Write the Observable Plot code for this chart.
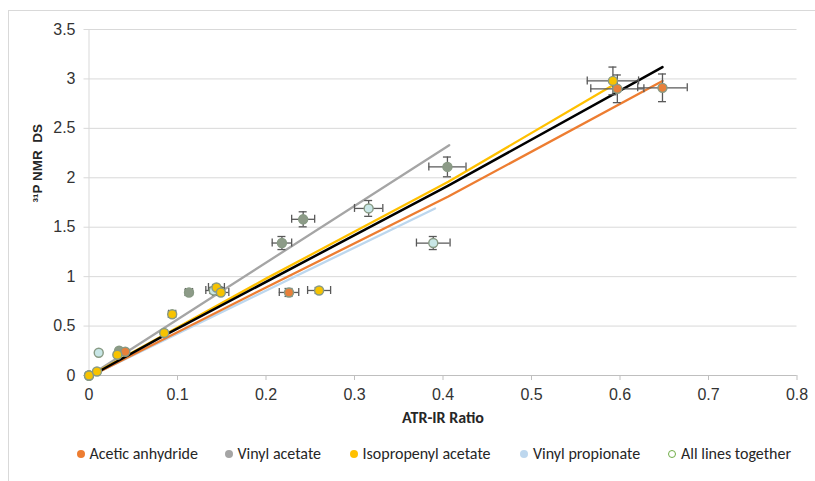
<!DOCTYPE html>
<html><head><meta charset="utf-8">
<script src="https://cdn.jsdelivr.net/npm/d3@7"></script>
<script src="https://cdn.jsdelivr.net/npm/@observablehq/plot@0.6"></script>
<style>
body{margin:0;background:#fff;width:815px;height:481px;overflow:hidden;position:relative;font-family:"Liberation Sans",Arial,sans-serif}
#frame{position:absolute;left:8px;top:10px;width:900px;height:520px;border:1px solid #d9d9d9;box-sizing:border-box}
#chart{position:absolute;left:0;top:0}
#legend{position:absolute;top:444px;left:0;width:815px;height:20px;font-family:Carlito,"Liberation Sans Narrow",Lato,sans-serif;font-size:16px;color:#262626}
.item{position:absolute;top:0;display:flex;align-items:center;white-space:nowrap;line-height:20px}
.sw{width:8px;height:8px;border-radius:50%;margin-right:5px;box-sizing:border-box}
</style></head><body>
<div id="frame"></div><div id="chart"></div><div id="legend"></div>
<script>
// ---- series names / colours
const seriesNames = ["Acetic anhydride","Vinyl acetate","Isopropenyl acetate","Vinyl propionate"];
const allLabel = "All lines together";
const lineColors = ["#ed7d31","#a5a5a5","#ffc000","#bdd7ee"];
const allColor = "#000000";
const pointFills = ["#e8803a","#8d9b88","#f7c300","#c8e6e6"];

// ---- axis ticks
const xTicks = [0,0.1,0.2,0.3,0.4,0.5,0.6,0.7,0.8];
const yTicks = [0,0.5,1,1.5,2,2.5,3,3.5];

// ---- measured points (ATR-IR ratio, 31P NMR DS) with error half-widths
const aceticX    = [0, 0.041, 0.226, 0.597, 0.648];
const aceticY    = [0, 0.24, 0.84, 2.90, 2.91];
const aceticXErr = [0, 0, 0.011, 0.030, 0.028];
const aceticYErr = [0, 0, 0.04, 0.14, 0.14];

const vinylAcX    = [0, 0.034, 0.113, 0.218, 0.242, 0.405];
const vinylAcY    = [0, 0.25, 0.84, 1.34, 1.58, 2.11];
const vinylAcXErr = [0, 0, 0.004, 0.011, 0.013, 0.021];
const vinylAcYErr = [0, 0, 0.03, 0.066, 0.076, 0.10];

const isoX    = [0, 0.009, 0.032, 0.085, 0.094, 0.144, 0.149, 0.26, 0.592];
const isoY    = [0, 0.04, 0.21, 0.43, 0.62, 0.89, 0.84, 0.86, 2.98];
const isoXErr = [0, 0, 0, 0, 0.004, 0.009, 0.009, 0.013, 0.029];
const isoYErr = [0, 0, 0, 0, 0.03, 0.03, 0.03, 0.03, 0.14];

const propX    = [0, 0.011, 0.035, 0.141, 0.316, 0.389];
const propY    = [0, 0.23, 0.24, 0.86, 1.69, 1.34];
const propXErr = [0, 0, 0, 0.009, 0.016, 0.019];
const propYErr = [0, 0, 0, 0.03, 0.08, 0.066];

// ---- fitted lines as drawn
const aceticLineX = [0.01, 0.2, 0.406, 0.648];
const aceticLineY = [0.03, 0.89, 1.81, 2.98];
const vinylAcLineX = [0.01, 0.407];
const vinylAcLineY = [0.05, 2.33];
const isoLineX = [0.01, 0.2, 0.406, 0.591];
const isoLineY = [0.04, 0.98, 1.96, 2.93];
const propLineX = [0.01, 0.391];
const propLineY = [0.03, 1.69];
const allLineX = [0.007, 0.08, 0.406, 0.648];
const allLineY = [0.02, 0.38, 1.92, 3.12];

// ---- build tables
const pointSets = [
  [aceticX, aceticY, aceticXErr, aceticYErr],
  [vinylAcX, vinylAcY, vinylAcXErr, vinylAcYErr],
  [isoX, isoY, isoXErr, isoYErr],
  [propX, propY, propXErr, propYErr]
];
const points = pointSets.map(([xs, ys, xe, ye], s) =>
  xs.map((x, i) => ({series: seriesNames[s], x, y: ys[i], xe: xe[i], ye: ye[i]})));
const allPoints = points.flat();
const lineSets = [
  [aceticLineX, aceticLineY], [vinylAcLineX, vinylAcLineY], [isoLineX, isoLineY], [propLineX, propLineY]
];
const lines = lineSets.map(([xs, ys], s) => xs.map((x, i) => ({series: seriesNames[s], x, y: ys[i]})));
const allLine = allLineX.map((x, i) => ({series: allLabel, x, y: allLineY[i]}));

const xErr = allPoints.filter(d => d.xe > 0);
const yErr = allPoints.filter(d => d.ye > 0);
const errColor = "#595959";
const lineOrder = [3, 1, 0, 2];

const chart = Plot.plot({
  width: 815, height: 440,
  marginLeft: 88.5, marginRight: 18.5, marginTop: 29, marginBottom: 65,
  x: {domain: [0, 0.8], label: null},
  y: {domain: [0, 3.5], label: null},
  style: {fontFamily: '"Liberation Sans", Arial, sans-serif', background: "transparent", color: "#333"},
  marks: [
    Plot.gridY(yTicks, {stroke: "#d9d9d9", strokeOpacity: 1, insetLeft: -5}),
    Plot.ruleX([0], {stroke: "#d9d9d9"}),
    Plot.ruleY([0], {stroke: "#bfbfbf"}),
    Plot.axisX(xTicks, {label: null, tickSize: 5, tickPadding: 8, stroke: "#bfbfbf", fill: "#333", fontSize: 16, tickFormat: d => String(d)}),
    Plot.axisY(yTicks, {label: null, tickSize: 0, tickPadding: 13.5, fill: "#333", fontSize: 16, tickFormat: d => String(d)}),
    Plot.text(["ATR-IR Ratio"], {frameAnchor: "bottom", dy: 47, fontWeight: "bold", fontSize: 16, fill: "#262626", fontFamily: 'Carlito, "Liberation Sans Narrow", Lato, sans-serif'}),
    Plot.text(["³¹P NMR  DS"], {frameAnchor: "left", dx: -51, rotate: -90, fontWeight: "bold", fontSize: 13.5, fill: "#262626"}),
    ...lineOrder.map(s => Plot.line(lines[s], {x: "x", y: "y", stroke: lineColors[s], strokeWidth: 2.3})),
    Plot.line(allLine, {x: "x", y: "y", stroke: allColor, strokeWidth: 2.5}),
    Plot.ruleY(xErr, {y: "y", x1: d => d.x - d.xe, x2: d => d.x + d.xe, stroke: errColor, strokeWidth: 1.3}),
    Plot.ruleX(xErr, {x: d => d.x - d.xe, y1: "y", y2: "y", insetTop: -4, insetBottom: -4, stroke: errColor, strokeWidth: 1.3}),
    Plot.ruleX(xErr, {x: d => d.x + d.xe, y1: "y", y2: "y", insetTop: -4, insetBottom: -4, stroke: errColor, strokeWidth: 1.3}),
    Plot.ruleX(yErr, {x: "x", y1: d => d.y - d.ye, y2: d => d.y + d.ye, stroke: errColor, strokeWidth: 1.3}),
    Plot.ruleY(yErr, {y: d => d.y - d.ye, x1: "x", x2: "x", insetLeft: -4, insetRight: -4, stroke: errColor, strokeWidth: 1.3}),
    Plot.ruleY(yErr, {y: d => d.y + d.ye, x1: "x", x2: "x", insetLeft: -4, insetRight: -4, stroke: errColor, strokeWidth: 1.3}),
    ...[3, 1, 0, 2].map(s => Plot.dot(points[s], {x: "x", y: "y", r: 4.5, fill: pointFills[s], stroke: "#889a84", strokeWidth: 1.4}))
  ]
});
document.getElementById("chart").appendChild(chart);

// ---- legend
const legend = document.getElementById("legend");
const legendItems = seriesNames.map((n, i) => ({name: n, color: lineColors[i], hollow: false}))
  .concat([{name: allLabel, color: "#70ad47", hollow: true}]);
const legendLeft = [76.5, 224.5, 349.5, 520, 668];
legendItems.forEach((it, i) => {
  const el = document.createElement("div");
  el.className = "item";
  el.style.left = legendLeft[i] + "px";
  const sw = document.createElement("span");
  sw.className = "sw";
  if (it.hollow) { sw.style.border = "1.3px solid " + it.color; sw.style.background = "#fff"; }
  else sw.style.background = it.color;
  el.appendChild(sw);
  const t = document.createElement("span");
  t.textContent = it.name;
  el.appendChild(t);
  legend.appendChild(el);
});
</script>
</body></html>
